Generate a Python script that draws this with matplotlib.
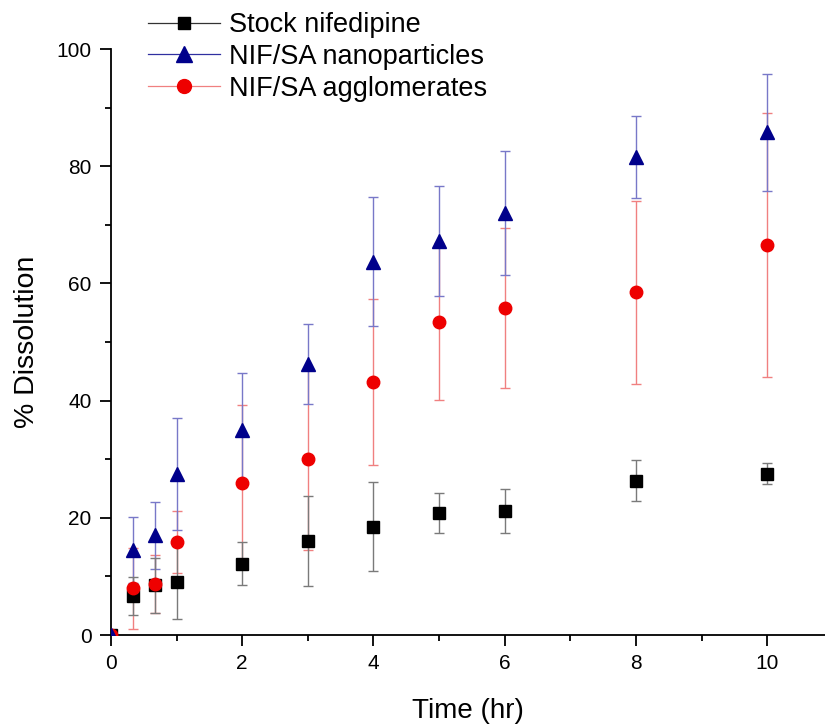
import matplotlib
matplotlib.use("Agg")
import matplotlib.pyplot as plt
from matplotlib.ticker import MultipleLocator

plt.rcParams['font.family'] = ['Liberation Sans', 'DejaVu Sans']

time = [0, 0.33, 0.67, 1, 2, 3, 4, 5, 6, 8, 10]

stock = [0, 6.7, 8.5, 9.0, 12.2, 16.0, 18.5, 20.8, 21.2, 26.3, 27.5]
stock_err = [0, 3.2, 4.7, 6.2, 3.7, 7.7, 7.6, 3.4, 3.8, 3.5, 1.8]

nano = [0, 14.5, 17.0, 27.5, 35.0, 46.3, 63.7, 67.3, 72.0, 81.5, 85.8]
nano_err = [0, 5.7, 5.7, 9.5, 9.7, 6.8, 11.0, 9.4, 10.6, 7.0, 10.0]

aggl = [0, 8.0, 8.7, 15.8, 26.0, 30.0, 43.2, 53.5, 55.8, 58.5, 66.5]
aggl_err = [0, 6.9, 5.0, 5.3, 13.3, 15.5, 14.2, 13.4, 13.7, 15.6, 22.5]

labels = ['Stock nifedipine', 'NIF/SA nanoparticles', 'NIF/SA agglomerates']

fig = plt.figure(figsize=(8.25, 7.26), dpi=100)
ax = fig.add_axes([0.1345, 0.1253, 0.8655, 0.8072])

series = [
    (stock, stock_err, 's', 'black', '#7a7a7a', 8.0, '#333333'),
    (nano, nano_err, '^', '#00008B', '#7878C8', 10.5, '#3030A0'),
    (aggl, aggl_err, 'o', '#EE0000', '#F08080', 9.0, '#F08080'),
]
for i in [2, 1, 0]:
    y, e, m, c, ec, ms, lc = series[i]
    ax.errorbar(time, y, yerr=e, fmt='none', ecolor=ec, elinewidth=1.0,
                capsize=3.3, capthick=1.0, zorder=2)
for i in [0, 2, 1]:
    y, e, m, c, ec, ms, lc = series[i]
    ax.plot(time, y, linestyle='none', marker=m, color=c,
            markersize=ms, markeredgecolor=c, zorder=3)
handles = []
for i in range(3):
    y, e, m, c, ec, ms, lc = series[i]
    handles.append(plt.Line2D([], [], color=lc, lw=0.9, marker=m,
                              markersize=ms + 1, markerfacecolor=c,
                              markeredgecolor=c))

ax.set_xlim(0, 10.88)
ax.set_ylim(0, 100)
ax.spines['top'].set_visible(False)
ax.spines['right'].set_visible(False)
ax.spines['left'].set_linewidth(1.3)
ax.spines['bottom'].set_linewidth(1.3)
ax.xaxis.set_major_locator(MultipleLocator(2))
ax.xaxis.set_minor_locator(MultipleLocator(1))
ax.yaxis.set_major_locator(MultipleLocator(20))
ax.yaxis.set_minor_locator(MultipleLocator(10))
ax.tick_params(which='major', direction='out', length=8, width=1.3, labelsize=15, pad=6)
ax.tick_params(which='minor', direction='out', length=4, width=1.3)
ax.set_xlabel('Time (hr)', fontsize=20, labelpad=18)
ax.set_ylabel('% Dissolution', fontsize=20.5, labelpad=12)

ax.legend(handles, labels, loc='upper left', bbox_to_anchor=(148 / 825, 1 - 12 / 726),
          bbox_transform=fig.transFigure, frameon=False, fontsize=19.5,
          handlelength=2.67, handletextpad=0.33, labelspacing=0.22, borderpad=0,
          borderaxespad=0)

fig.savefig('out.png', dpi=100)
